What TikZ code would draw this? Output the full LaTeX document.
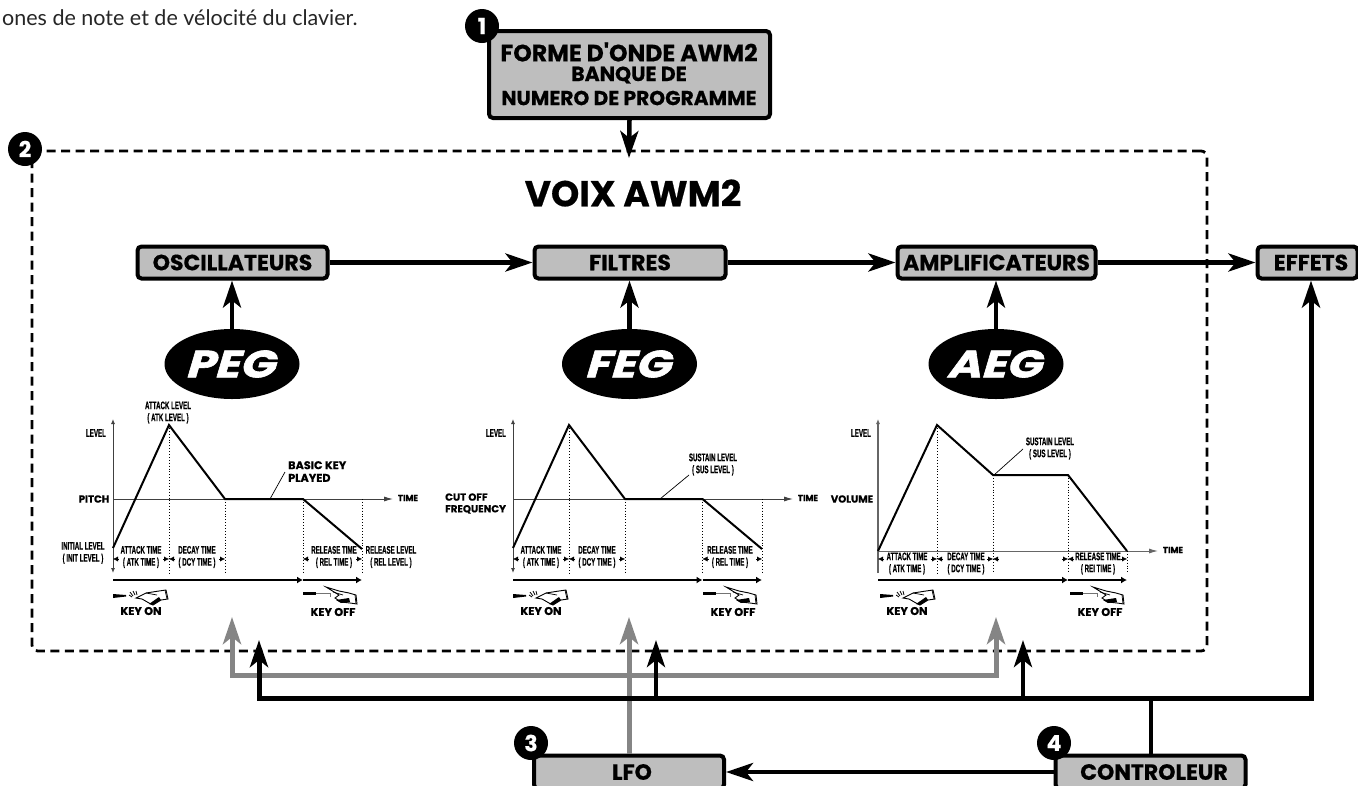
\documentclass[tikz,border=0pt]{standalone}
\usepackage{fontspec}
\usetikzlibrary{arrows.meta,shapes.geometric,calc}
\newfontfamily\pop[BoldFeatures={FakeBold=0.5}]{Poppins}
\newfontfamily\egf[FakeStretch=1.22,FakeSlant=0.08,BoldItalicFeatures={FakeBold=1.6}]{Poppins}
\newfontfamily\cnd[FakeStretch=0.56,BoldFeatures={FakeBold=0.4}]{Liberation Sans}
\newfontfamily\bodyf{Lato}
\newcommand{\fs}[1]{\fontsize{#1}{#1}\selectfont}
\definecolor{boxgray}{HTML}{BEBEBE}
\definecolor{linkgray}{HTML}{858585}
\tikzset{
  x=1pt,y=-1pt,
  blockbox/.style={draw=black,fill=boxgray,line width=4pt,rounded corners=4pt,inner sep=0pt,align=center,font=\pop\bfseries\fs{22}},
  badge/.style={circle,fill=black,text=white,inner sep=0pt,minimum size=34pt,font=\pop\bfseries\fs{22}},
  egblob/.style={ellipse,fill=black,text=white,inner sep=0pt,minimum width=135pt,minimum height=70pt,font=\egf\bfseries\itshape\fs{38}},
  bigarrow/.style={line width=4.5pt,-{Stealth[length=27pt,width=18pt,inset=7pt]}},
  graylink/.style={bigarrow,line width=5pt,draw=linkgray,color=linkgray},
  curve/.style={line width=2pt,line join=miter},
  axisl/.style={line width=.9pt,draw=black!75},
  guide/.style={line width=.9pt,dotted},
  timearrow/.style={line width=2.8pt,-{Latex[length=6pt,width=7pt]}},
  tick/.style={line width=.4pt,-{Latex[length=5pt,width=5pt]}},
  smallc/.style={inner sep=0pt,align=center,font=\cnd\bfseries\fs{11}},
  smallw/.style={inner sep=0pt,align=center,font=\pop\bfseries\fs{10.2}},
  smallk/.style={inner sep=0pt,align=center,font=\pop\bfseries\fs{11.2}},
  smallt/.style={inner sep=0pt,align=center,font=\pop\bfseries\fs{8.6}},
}
% hand pressing a key
\newcommand{\keyonhand}[2]{%
\begin{scope}[shift={(#1,#2)}]
 \fill (0,-2) -- (13,-1) -- (13,.5) -- (0,2) -- cycle;
 \draw[line width=.8pt] (16,-1) -- (19,1) (17,-4) -- (20,0) (20,-5) -- (22,-1) (23,-5) -- (24,-1);
 \draw[line width=.9pt,fill=white] (23,2) -- (33,-3) -- (46,-5) -- (53,-6) -- (55,3) -- (48,4) -- (40,9) -- (36,7) -- (29,3) -- cycle;
 \draw[line width=.7pt] (33,-3) -- (44,-1) (52,-6) -- (54,3);
 \fill (36,8) -- (46,1) -- (48,4) -- (40,9) -- cycle;
\end{scope}}
\newcommand{\keyoffhand}[2]{%
\begin{scope}[shift={(#1,#2)}]
 \fill (0,-1.5) -- (13,-1.5) -- (13,1.5) -- (0,1.5) -- cycle;
 \draw[line width=.8pt,draw=black!55] (13,0) -- (27,0) -- (27,4);
 \draw[line width=.9pt,fill=white] (23,-6) -- (36,-2) -- (46,0) -- (53,2) -- (54,11) -- (47,10) -- (38,9) -- (32,5) -- (36,2) -- cycle;
 \draw[line width=.7pt] (30,-1) -- (40,2) (52,2) -- (53,11);
 \fill (33,7) -- (46,5) -- (47,9) -- (38,10) -- cycle;
\end{scope}}
% small dimension arrowheads
\newcommand{\dimhead}[2]{\draw[tick] (#1+#2*6,559) -- (#1,559);}
\begin{document}
\begin{tikzpicture}
\useasboundingbox (0,0) rectangle (1358,785);
\clip (0,0) rectangle (1358,785);
\fill[white] (0,0) rectangle (1358,785);

\node[anchor=west,inner sep=0pt,font=\bodyf\fs{21.5},text=black!85] (intro) at (2,18) {ones de note et de vélocité du clavier.};

% frame
\node[draw=black,line width=2.8pt,dash pattern=on 9pt off 5.5pt,rounded corners=6pt,minimum width=1175pt,minimum height=500pt,inner sep=0pt] (voix) at (619.5,401) {};

% main blocks
\node[blockbox,minimum width=281pt,minimum height=87pt] (wave) at (629.5,74.5) {};
\node[inner sep=0pt,font=\pop\bfseries\fs{23.6}] (w1) at (629,52) {FORME D'ONDE AWM2};
\node[inner sep=0pt,font=\pop\bfseries\fs{20.4}] (w2) at (629,75) {BANQUE DE};
\node[inner sep=0pt,font=\pop\bfseries\fs{20.2}] (w3) at (629,98) {NUMERO DE PROGRAMME};
\node[badge] (n1) at (482,26) {1};
\node[badge] (n2) at (25,149) {2};
\coordinate (wavetip) at (629,158);
\draw[bigarrow] (wave.south) -- (wavetip);

\node[inner sep=0pt,font=\pop\bfseries\fs{36}] (title) at (633,193) {VOIX AWM2};

\node[blockbox,minimum width=190pt,minimum height=32pt] (osc) at (232.5,262.5) {OSCILLATEURS};
\node[blockbox,minimum width=191pt,minimum height=32pt] (fil) at (630,262.5) {FILTRES};
\node[blockbox,minimum width=198pt,minimum height=32pt] (amp) at (996.5,262.5) {AMPLIFICATEURS};
\node[blockbox,minimum width=100pt,minimum height=32pt] (eff) at (1307.5,262.5) {\hspace*{7pt}EFFETS};
\draw[bigarrow] (osc) -- (fil);
\draw[bigarrow] (fil) -- (amp);
\draw[bigarrow] (amp) -- (eff);

\node[egblob] (peg) at (232,364) {PEG};
\node[egblob] (feg) at (629.5,364) {FEG};
\node[egblob] (aeg) at (996,364) {AEG};
\draw[bigarrow] (peg.north) -- (peg.north|-osc.south);
\draw[bigarrow] (feg.north) -- (feg.north|-fil.south);
\draw[bigarrow] (aeg.north) -- (aeg.north|-amp.south);

% ---------- PEG plot
\draw[axisl,<->,>={Latex[length=5pt,width=4pt]}] (113,419) -- (113,573);
\draw[axisl,-{Latex[length=9pt,width=5pt]}] (113,499) -- (393,499);
\draw[guide] (169,425) -- (169,573) (225,499) -- (225,573) (303,499) -- (303,573) (362,499) -- (362,573);
\draw[curve] (113,548) -- (169,425) -- (225,499) -- (303,499) -- (362,549);
\draw[line width=.7pt] (270,499) -- (285,472);
\draw[timearrow] (113,580) -- (303,580);
\draw[timearrow] (303,580) -- (362,580);
\dimhead{113}{1}\dimhead{169}{-1}\dimhead{169}{1}\dimhead{225}{-1}\dimhead{303}{1}\dimhead{362}{-1}
\node[smallc] (a1) at (168,412.5) {ATTACK LEVEL\\[1pt]( ATK LEVEL )};
\node[smallc] (a2) at (96,433) {LEVEL};
\node[smallw] (a3) at (94,499) {PITCH};
\node[smallk,anchor=west,align=left] (a4) at (288,471.5) {BASIC KEY\\[1.5pt]PLAYED};
\node[smallt] (a5) at (408,498) {TIME};
\node[smallc] (a6) at (83,553) {INITIAL LEVEL\\[1pt]( INIT LEVEL )};
\node[smallc] (a7) at (141,557) {ATTACK TIME\\[1pt]( ATK TIME )};
\node[smallc] (a8) at (197,557) {DECAY TIME\\[1pt]( DCY TIME )};
\node[smallc] (a9) at (334,557) {RELEASE TIME\\[1pt]( REL TIME )};
\node[smallc] (a10) at (391,557) {RELEASE LEVEL\\[1pt]( REL LEVEL )};
\node[smallk] (a11) at (141,611) {KEY ON};
\node[smallk] (a12) at (333,612) {KEY OFF};
\keyonhand{113}{596}\keyoffhand{303}{593}

% ---------- FEG plot
\draw[axisl,<->,>={Latex[length=5pt,width=4pt]}] (513,419) -- (513,573);
\draw[axisl,-{Latex[length=9pt,width=5pt]}] (513,499) -- (793,499);
\draw[guide] (569,425) -- (569,573) (625,499) -- (625,573) (702.5,499) -- (702.5,573) (762,499) -- (762,573);
\draw[curve] (513,548) -- (569,425) -- (625,499) -- (702.5,499) -- (762,549);
\draw[line width=.7pt] (660,499) -- (689,475);
\draw[timearrow] (513,580) -- (702.5,580);
\draw[timearrow] (702.5,580) -- (762,580);
\dimhead{513}{1}\dimhead{569}{-1}\dimhead{569}{1}\dimhead{625}{-1}\dimhead{702.5}{1}\dimhead{762}{-1}
\node[smallc] (b2) at (496,433) {LEVEL};
\node[smallw,align=left,anchor=west] (b3) at (445,503.5) {CUT OFF\\[1.5pt]FREQUENCY};
\node[smallc] (b4) at (713,464.5) {SUSTAIN LEVEL\\[1pt]( SUS LEVEL )};
\node[smallt] (b5) at (808,498) {TIME};
\node[smallc] (b7) at (541,557) {ATTACK TIME\\[1pt]( ATK TIME )};
\node[smallc] (b8) at (597,557) {DECAY TIME\\[1pt]( DCY TIME )};
\node[smallc] (b9) at (730,557) {RELEASE TIME\\[1pt]( REL TIME )};
\node[smallk] (b11) at (541,611) {KEY ON};
\node[smallk] (b12) at (733,612) {KEY OFF};
\keyonhand{513}{596}\keyoffhand{703}{593}

% ---------- AEG plot
\draw[line width=1.2pt,draw=black!60,-{Latex[length=5pt,width=4pt]}] (878,573) -- (878,419);
\draw[line width=1pt,draw=black!60,-{Latex[length=9pt,width=5pt]}] (878,551) -- (1158,551);
\draw[guide] (937,425) -- (937,573) (993,475) -- (993,573) (1068,475) -- (1068,573) (1127,551) -- (1127,573);
\draw[curve] (878,551) -- (937,425) -- (993,475) -- (1068,475) -- (1127,551);
\draw[line width=.7pt] (994,475) -- (1023,449);
\draw[timearrow] (878,580) -- (1068,580);
\draw[timearrow] (1068,580) -- (1127,580);
\dimhead{878}{1}\dimhead{937}{-1}\dimhead{937}{1}\dimhead{993}{-1}\dimhead{993}{1}\dimhead{1068}{-1}\dimhead{1068}{1}\dimhead{1127}{-1}
\node[smallc] (c2) at (861,433) {LEVEL};
\node[smallw] (c3) at (852,499) {VOLUME};
\node[smallc] (c4) at (1050,448.5) {SUSTAIN LEVEL\\[1pt]( SUS LEVEL )};
\node[smallt] (c5) at (1173,550) {TIME};
\node[smallc] (c7) at (907,563.5) {ATTACK TIME\\[1pt]( ATK TIME )};
\node[smallc] (c8) at (966,563.5) {DECAY TIME\\[1pt]( DCY TIME )};
\node[smallc] (c9) at (1098,563.5) {RELEASE TIME\\[1pt]( REI TIME )};
\node[smallk] (c11) at (907,611) {KEY ON};
\node[smallk] (c12) at (1100,612) {KEY OFF};
\keyonhand{880}{596}\keyoffhand{1070}{593}

% ---------- bottom blocks
\node[blockbox,minimum width=190pt,minimum height=33pt] (lfo) at (629,772) {\hspace*{6pt}LFO};
\node[blockbox,minimum width=190pt,minimum height=33pt] (ctl) at (1150.5,772) {\hspace*{7pt}CONTROLEUR};
\node[badge] (n3) at (531,743) {3};
\node[badge] (n4) at (1054,743) {4};

\coordinate (gl) at (232,617);
\coordinate (gr) at (996,617);
\coordinate (gllow) at (232,675);
\coordinate (grlow) at (996,675);
\draw[line width=5pt,draw=linkgray,color=linkgray,{Stealth[length=27pt,width=18pt,inset=7pt]}-{Stealth[length=27pt,width=18pt,inset=7pt]}] (gl) -- (gllow) -- (grlow) -- (gr);
\coordinate (lfotip) at (629,617);
\draw[graylink] (lfo.north-|lfotip) -- (lfotip);

\coordinate (bl) at (259,640);
\coordinate (bllow) at (259,698);
\coordinate (brlow) at (1311,698);
\draw[line width=5pt,{Stealth[length=27pt,width=18pt,inset=7pt]}-{Stealth[length=27pt,width=18pt,inset=7pt]}] (bl) -- (bllow) -- (brlow) -- (brlow|-eff.south);
\coordinate (b1low) at (656,698);
\coordinate (b1tip) at (656,640);
\coordinate (b2low) at (1023,698);
\coordinate (b2tip) at (1023,640);
\draw[bigarrow] (b1low) -- (b1tip);
\draw[bigarrow] (b2low) -- (b2tip);
\coordinate (ctltap) at (1151,698);
\draw[line width=4.5pt] (ctl.north-|ctltap) -- (ctltap);
\draw[bigarrow] (ctl.west) -- (lfo.east);
\end{tikzpicture}
\end{document}
